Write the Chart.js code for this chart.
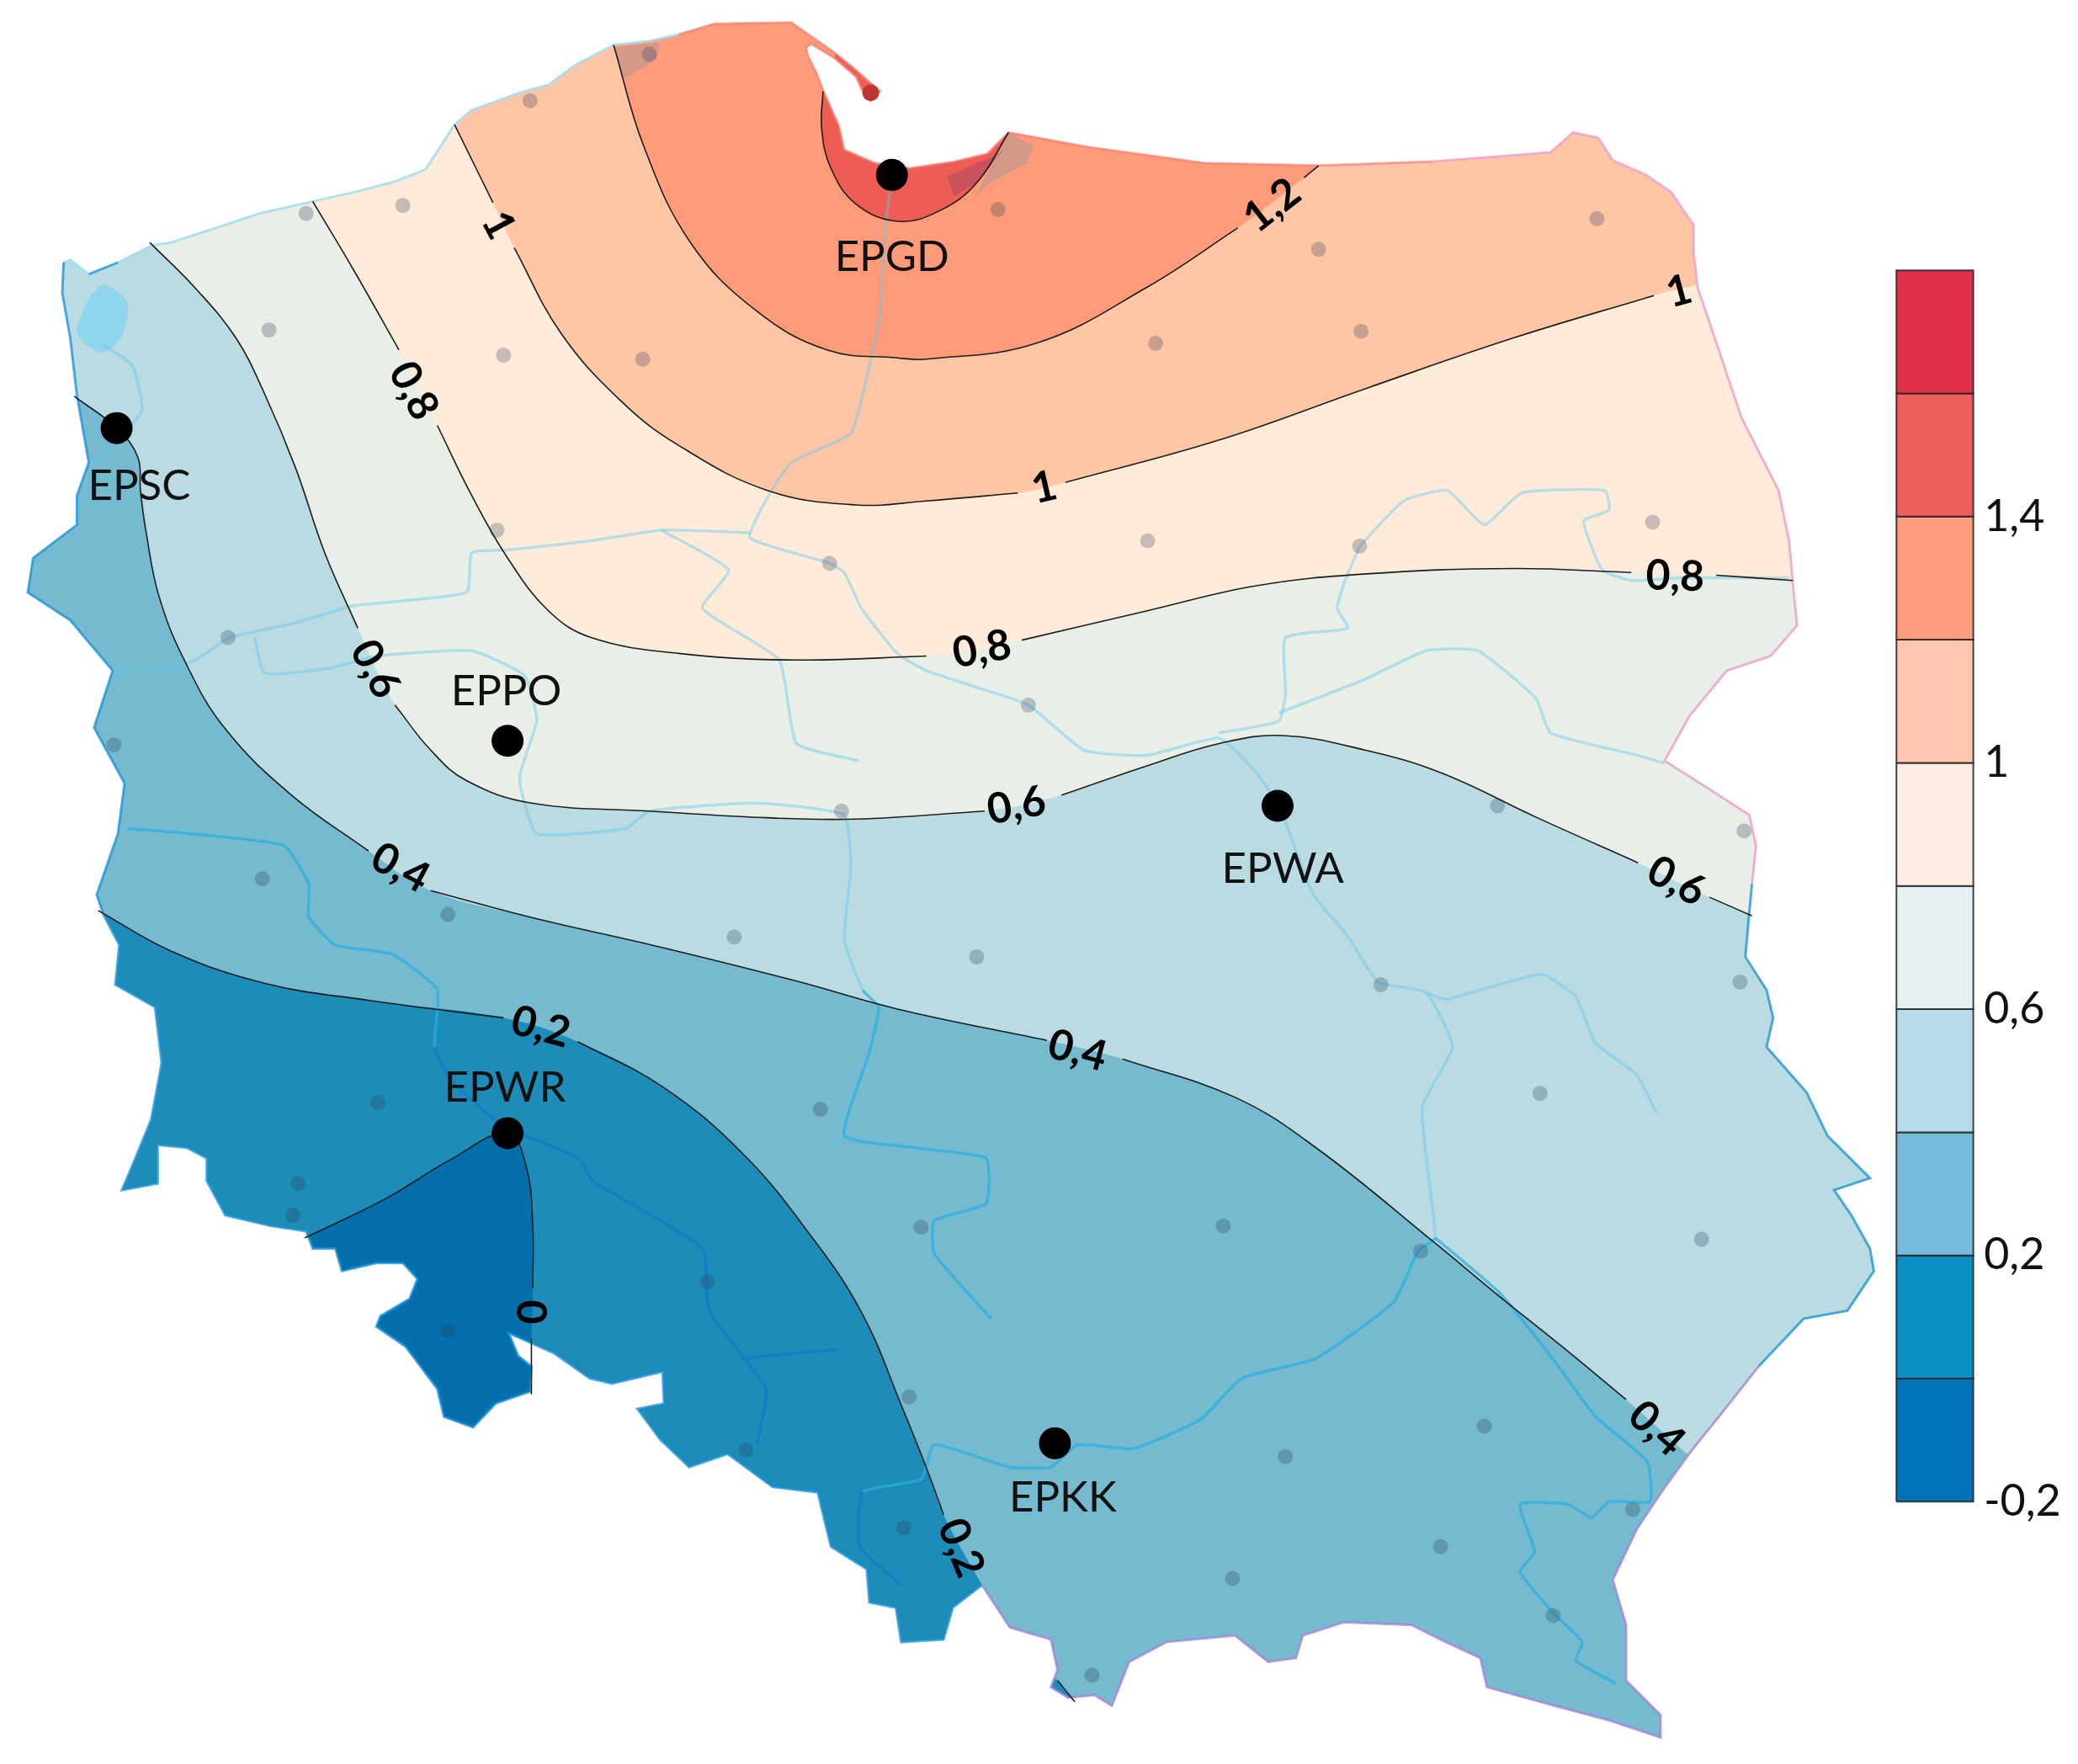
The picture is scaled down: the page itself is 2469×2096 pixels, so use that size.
<!DOCTYPE html>
<html>
<head>
<meta charset="utf-8">
<title>Poland contour map</title>
<script src="https://cdn.jsdelivr.net/npm/chart.js@4"></script>
<style>
    html, body { margin: 0; padding: 0; background: #fff; }
    #wrap { width: 2469px; height: 2096px; }
</style>
</head>
<body>
<div id="wrap"><canvas id="mapChart"></canvas></div>
<script>
const gap = [null, null];

const outline = [
    [48,198],[53,196],[67,207],[89,198],[115,185],[129,183],[169,170],[196,161],[236,152],[267,145],[298,137],[321,128],
    [334,108],[343,94],[356,83],[392,70],[414,64],[434,49],[463,34],[490,31],[512,26],[539,18],[597,17],
    [630,40],[646,53],[664,69],[657,76],[651,69],[646,58],[630,44],[612,33],[608,36],[610,43],[616,55],[621,68],
    [633,95],[637,113],[660,123],[686,127],[720,122],[745,116],[761,100],
    [821,111],[909,123],[995,125],[1081,122],[1170,115],[1187,100],[1206,104],[1217,121],[1242,132],[1261,145],
    [1278,170],[1278,191],[1281,217],[1297,264],[1314,315],[1342,370],[1350,408],[1353,442],[1356,472],[1336,495],
    [1303,506],[1275,540],[1256,574],[1286,593],[1320,615],[1325,638],[1322,667],
    [1320,688],[1317,722],[1333,747],[1338,768],[1333,790],[1363,824],[1379,857],[1411,889],[1384,898],[1397,917],
    [1411,942],[1414,959],[1394,989],[1361,995],[1327,1031],[1297,1069],[1276,1095],[1255,1124],[1235,1154],[1217,1192],
    [1227,1226],[1227,1268],[1253,1294],[1253,1311],[1214,1298],[1173,1287],[1122,1273],[1117,1251],[1091,1239],
    [1065,1226],[1014,1224],[983,1234],[978,1251],[957,1254],[932,1234],[880,1239],[852,1254],[839,1287],[826,1279],
    [806,1281],[793,1273],[798,1260],[793,1237],[762,1228],
    [741,1196],[719,1213],[712,1237],[680,1239],[676,1213],[656,1209],[654,1184],[627,1167],[617,1126],[583,1122],
    [549,1097],[520,1107],[498,1086],[481,1063],[501,1059],[500,1035],[462,1044],[445,1040],[418,1021],[384,1006],
    [391,1023],[401,1031],[400,1050],[374,1059],[357,1077],[335,1069],[330,1048],[306,1016],[284,1001],[287,993],
    [309,980],[315,965],[304,953],[284,953],[258,959],[253,942],[236,942],[231,929],[204,925],[170,917],[156,891],
    [156,874],[141,866],[119,864],[119,893],[92,898],[100,879],[114,845],[122,802],[117,760],[87,743],[90,713],
    [78,690],[73,675],[89,629],[94,591],[71,549],[85,506],[53,468],[21,447],[25,421],[58,396],[58,374],[67,349],
    [58,298],[53,255],[47,221]
];

// contour lines, gaps sit under the rotated labels
const contour00 = [[230,934],[290,905],[340,875],[383,855],[397,880],[402,925],[402,972],gap,[401,1010],[401,1052]];
const contour02 = [[74,687],[130,718],[200,742],[280,755],[380,768],gap,[436,786],[500,820],[560,870],[610,930],[650,990],[680,1060],[700,1110],[712,1143],gap,[741,1196]];
const contour02b = [[798,1268],[811,1284]];
const contour04 = [[56,299],[88,323],[104,345],[106,370],[110,400],[120,450],[140,500],[170,550],[220,600],[278,642],gap,[325,672],[400,692],[500,715],[600,740],[680,762],[790,785],gap,[847,799],[932,828],[993,866],[1083,938],[1130,977],[1180,1017],[1227,1056],gap,[1273,1097]];
const contour06 = [[113,183],[147,217],[178,255],[200,298],[223,353],[245,417],[270,474],gap,[298,532],[325,566],[352,589],[401,606],[490,612],[579,617],[646,618],[743,612],gap,[801,600],[865,578],[920,561],[968,555],[1030,566],[1087,583],[1160,617],[1236,651],gap,[1290,677],[1322,691]];
const contour08 = [[236,152],[267,204],[301,264],gap,[330,321],[356,374],[383,421],[414,461],[446,481],[512,493],[601,498],[699,495],gap,[771,483],[865,461],[948,442],[1031,433],[1142,429],[1231,432],gap,[1295,434],[1353,438]];
const contour10 = [[343,94],[372,153],gap,[388,187],[423,251],[468,302],[512,336],[579,370],[646,381],[699,378],[768,372],gap,[804,364],[920,332],[1031,293],[1142,255],[1248,223],gap,[1281,215]];
const contour12 = [[463,34],[486,111],[521,183],[570,234],[624,264],[677,270],[699,271],[782,259],[865,217],[934,172],gap,[984,134],[995,125]];
const contour14 = [[621,69],[620,97],[627,127],[646,154],[678,167],[709,159],[737,138],[761,100]];

// where each filled band closes, outside the country
const closeBelow00 = [[402,1060],[350,1110],[205,1000]];
const close02 = [[760,1331],[1568,1331],[1568,0],[0,0],[0,686]];
const close04 = [[1568,1097],[1568,0],[0,0],[0,299]];
const close06 = [[1568,692],[1568,0],[0,0],[0,183]];
const close08 = [[1568,438],[1568,0],[0,0],[0,148]];
const close10 = [[1568,215],[1568,0],[0,0],[0,90]];
const close12 = [[1000,100],[1000,0],[462,0]];
const close14 = [[770,90],[770,0],[630,0],[630,60]];
const patch02 = [[793,1264],[798,1268],[811,1284],[800,1290],[785,1280]];

const rivers = [
    [[673,136],[668,170],[664,238],[653,289],[642,327],[597,349],[577,379],[566,406],[626,425],[637,432],[650,459],[677,493],[699,506],[732,517],[776,532],[818,566],[865,570],[920,557],[948,583],[965,608],[991,675],[1016,705],[1040,741],[1076,749],[1096,790],[1073,836],[1083,934],[1070,944],[1052,982],[993,1025],[937,1040],[906,1071],[855,1093],[813,1090],[793,1107],[762,1107],[705,1090],[695,1116],[651,1126],[649,1167],[680,1196]],
    [[85,508],[143,500],[174,481],[223,470],[267,457],[352,447],[356,417],[383,415],[446,408],[499,400],[566,402]],
    [[192,481],[200,508],[249,504],[285,495],[356,491],[396,510],[405,544],[392,587],[405,629],[472,625],[490,612],[570,606],[637,615],[642,655],[637,709],[651,747],[663,760],[656,794],[637,857],[690,866],[744,874],[744,908],[705,921],[705,946],[748,995]],
    [[499,400],[550,430],[530,459],[588,498],[601,561],[648,574]],
    [[69,349],[85,336],[107,310],[100,276],[76,259]],
    [[96,625],[143,629],[214,638],[233,667],[233,692],[253,713],[296,720],[330,747],[328,790],[340,815],[379,849],[437,874],[447,891],[530,942],[535,989],[578,1048],[571,1090]],
    [[559,1025],[632,1018]],
    [[1026,412],[1059,378],[1092,370],[1120,396],[1148,372],[1211,370],[1214,385],[1195,393],[1209,430],[1231,438],[1270,436],[1350,436]],
    [[1026,412],[1015,438],[1009,459],[1017,474],[970,481],[970,523],[965,544],[920,553]],
    [[965,538],[1031,512],[1076,491],[1115,491],[1159,527],[1170,553],[1236,570],[1256,576]],
    [[1076,749],[1091,754],[1163,735],[1189,752],[1204,787],[1235,811],[1250,840]],
    [[1083,934],[1132,976],[1173,1027],[1204,1069],[1243,1103],[1245,1133],[1214,1133],[1201,1145],[1183,1135],[1147,1135],[1158,1171],[1147,1186],[1173,1218],[1194,1239],[1189,1253],[1219,1270]]
];

const lagoon = [[67,225],[78,215],[96,228],[91,255],[76,266],[58,251]];
const deltaPatch = [[715,133],[747,119],[757,113],[737,138],[720,148]];
const greyPatches = [
    [[761,100],[780,110],[775,123],[747,138],[735,150],[745,130]],
    [[463,36],[498,32],[495,45],[470,60]]
];

const gridDots = [
    [400,76],[490,41],[304,155],[231,161],[203,249],[380,268],[485,271],[753,158],[995,188],[1205,165],[1027,250],[872,259],
    [375,400],[626,425],[866,408],[1026,412],[1247,394],[172,481],[776,532],[86,562],[635,612],[1130,608],[1316,627],[198,663],
    [338,690],[554,707],[737,722],[1042,743],[1313,741],[285,832],[619,837],[1162,825],[225,893],[221,917],[695,926],[923,925],
    [1072,944],[1284,935],[338,1004],[534,967],[686,1054],[1120,1076],[970,1099],[563,1094],[682,1153],[1232,1139],[1087,1167],
    [930,1191],[1172,1219],[824,1264]
];

const stationNames = ['EPGD', 'EPSC', 'EPPO', 'EPWA', 'EPWR', 'EPKK'];
const stationPoints = [[673,132],[88,323],[383,559],[964,608],[383,855],[796,1089]];
const stationLabelPoints = [[673,194],[105,367],[382,522],[968,656],[381,821],[802,1130]];

const contourLabelTexts = ['1','0,8','0,6','0,4','0,4','0,2','0','0,2','0,4','0,6','0,8','1','1','1,2','0,8','0,6'];
const contourLabelPoints = [[376,170],[312,295],[283,505],[302,655],[813,793],[408,775],[400,990],[725,1168],[1250,1078],[1265,665],[1264,435],[1267,220],[788,368],[960,155],[741,490],[767,608]];
const contourLabelAngles = [62,62,62,28,15,15,90,68,42,28,2,-15,-13,-38,-10,-10];

// colour key
const legendBreaks = [-0.2,0,0.2,0.4,0.6,0.8,1,1.2,1.4,1.6,1.8];
const legendColors = ['#0073b8','#0b8fc3','#75bddc','#b7dbec','#e6f0f3','#ffede4','#ffc7ad','#ff9d80','#ee5e5c','#e0304c'];
const legendTicks = [-0.2,0.2,0.6,1,1.4];
const legendTickLabels = ['-0,2','0,2','0,6','1','1,4'];
const legendLeft = 1431;
const legendRight = 1489;

const bandColors = ['#1d8cb8','#046fab','#75bace','#badbe1','#e9eee6','#ffebd9','#fec6a5','#ff9b78','#ee5d54'];

// doubled corners keep the closing edges straight under the spline tension
function bandShape(contour, closing) {
    const pts = contour.filter(p => p[0] !== null);
    const corners = closing.flatMap(p => [p, p]);
    return [...pts, pts[pts.length - 1], ...corners, pts[0], pts[0]];
}

function polyDataset(data, color) {
    return { data: data, fill: 'shape', backgroundColor: color, borderWidth: 0, tension: 0 };
}

function outlineColor(ctx) {
    const x = ctx.p0.parsed.x;
    const y = ctx.p0.parsed.y;
    if (x > 1000 && y < 650) return 'rgba(235,160,205,0.8)';
    if (x > 760 && y > 1000) return 'rgba(165,130,215,0.75)';
    if (x > 500 && x <= 1000 && y < 200) return 'rgba(240,125,115,0.65)';
    if (x <= 500 && y < 200) return 'rgba(160,220,240,0.8)';
    return 'rgba(25,145,215,0.75)';
}

// rivers read darker the further south the band is
function riverColor(ctx) {
    const x = ctx.p0.parsed.x;
    const y = ctx.p0.parsed.y;
    if (y > 762 && x < Math.min(690, 300 + (y - 760) * 1.6)) return 'rgba(15,125,195,0.8)';
    if (x < 1100 && y > 660 + (x - 325) * 0.24) return 'rgba(40,175,225,0.7)';
    if (y > 960) return 'rgba(40,175,225,0.7)';
    return 'rgba(95,200,240,0.42)';
}

const datasets = [];
// painted in this order, clipped to the country up to and including the dots
datasets.push(polyDataset([...outline, outline[0]], bandColors[0]));
datasets.push({ ...polyDataset(bandShape(contour00, closeBelow00), bandColors[1]), tension: 0.4 });
datasets.push({ ...polyDataset(bandShape(contour02, close02), bandColors[2]), tension: 0.4 });
datasets.push(polyDataset([...patch02, patch02[0]], bandColors[0]));
datasets.push({ ...polyDataset(bandShape(contour04, close04), bandColors[3]), tension: 0.4 });
datasets.push({ ...polyDataset(bandShape(contour06, close06), bandColors[4]), tension: 0.4 });
datasets.push({ ...polyDataset(bandShape(contour08, close08), bandColors[5]), tension: 0.4 });
datasets.push({ ...polyDataset(bandShape(contour10, close10), bandColors[6]), tension: 0.4 });
datasets.push({ ...polyDataset(bandShape(contour12, close12), bandColors[7]), tension: 0.4 });
datasets.push({ ...polyDataset(bandShape(contour14, close14), bandColors[8]), tension: 0.4 });
datasets.push({ ...polyDataset([...lagoon, lagoon[0]], 'rgba(115,210,245,0.6)'), tension: 0.3 });
datasets.push(polyDataset([...deltaPatch, deltaPatch[0]], 'rgba(125,60,110,0.35)'));
greyPatches.forEach(p => datasets.push(polyDataset([...p, p[0]], 'rgba(125,150,170,0.35)')));
rivers.forEach(r => datasets.push({ data: r, borderColor: 'rgba(95,200,240,0.42)', borderWidth: 3.5, tension: 0.15, segment: { borderColor: riverColor } }));
datasets.push({ data: gridDots, showLine: false, pointRadius: 9, pointBackgroundColor: 'rgba(45,60,90,0.27)', pointBorderWidth: 0 });
const lastClipped = datasets.length - 1;

datasets.push({ data: [...outline, outline[0]], borderWidth: 3, borderColor: 'rgba(25,145,215,0.75)', tension: 0, segment: { borderColor: outlineColor } });
datasets.push({ data: [[657,70]], showLine: false, pointRadius: 10, pointBackgroundColor: '#c0352f', pointBorderWidth: 0 });
[contour00, contour02, contour02b, contour04, contour06, contour08, contour10, contour12, contour14].forEach(c => {
    datasets.push({ data: c, borderColor: '#1c1c1c', borderWidth: 1.6, tension: 0.4 });
});
datasets.push({ data: stationPoints, showLine: false, pointRadius: 19, pointBackgroundColor: '#000', pointBorderWidth: 0 });

// colour key, on its own value axis
legendColors.forEach((color, i) => {
    const lo = legendBreaks[i];
    const hi = legendBreaks[i + 1];
    datasets.push({
        data: [[legendLeft, lo], [legendRight, lo], [legendRight, hi], [legendLeft, hi], [legendLeft, lo]],
        yAxisID: 'yLeg',
        fill: 'shape',
        backgroundColor: color,
        borderColor: 'rgba(35,35,35,0.85)',
        borderWidth: 2,
        tension: 0
    });
});
datasets.forEach((d, i) => { d.order = datasets.length - i; });

// Clip the bands to the country outline
const countryClip = {
    id: 'countryClip',
    beforeDatasetsDraw(chart) {
        const { ctx, scales } = chart;
        ctx.save();
        ctx.beginPath();
        outline.forEach((p, i) => {
            const px = scales.x.getPixelForValue(p[0]);
            const py = scales.y.getPixelForValue(p[1]);
            if (i === 0) ctx.moveTo(px, py); else ctx.lineTo(px, py);
        });
        ctx.closePath();
        ctx.clip();
    },
    afterDatasetDraw(chart, args) {
        if (args.index === lastClipped) chart.ctx.restore();
    }
};

// Station names, contour labels and key ticks
const mapText = {
    id: 'mapText',
    afterDatasetsDraw(chart) {
        const { ctx, scales } = chart;
        ctx.save();
        ctx.fillStyle = '#111';
        ctx.textAlign = 'center';
        ctx.textBaseline = 'middle';

        ctx.font = '51px Lato';
        stationNames.forEach((name, i) => {
            const p = stationLabelPoints[i];
            ctx.fillText(name, scales.x.getPixelForValue(p[0]), scales.y.getPixelForValue(p[1]));
        });

        ctx.font = 'bold 50px Lato';
        ctx.fillStyle = '#000';
        contourLabelTexts.forEach((text, i) => {
            const p = contourLabelPoints[i];
            ctx.save();
            ctx.translate(scales.x.getPixelForValue(p[0]), scales.y.getPixelForValue(p[1]));
            ctx.rotate(contourLabelAngles[i] * Math.PI / 180);
            ctx.fillText(text, 0, 0);
            ctx.restore();
        });

        ctx.font = '52px Lato';
        ctx.fillStyle = '#111';
        ctx.textAlign = 'left';
        legendTicks.forEach((v, i) => {
            ctx.fillText(legendTickLabels[i], scales.x.getPixelForValue(legendRight + 8), scales.yLeg.getPixelForValue(v));
        });
        ctx.restore();
    }
};

new Chart(document.getElementById('mapChart'), {
    type: 'line',
    data: { datasets: datasets },
    plugins: [countryClip, mapText],
    options: {
        responsive: true,
        maintainAspectRatio: false,
        animation: false,
        events: [],
        layout: { padding: 0, autoPadding: false },
        elements: { point: { radius: 0 } },
        plugins: {
            legend: { display: false },
            tooltip: { enabled: false }
        },
        scales: {
            x: { type: 'linear', min: 0, max: 1568, display: false },
            y: { type: 'linear', min: 0, max: 1331, reverse: true, display: false },
            yLeg: { type: 'linear', min: -0.626, max: 2.239, display: false }
        }
    }
});
</script>
</body>
</html>
